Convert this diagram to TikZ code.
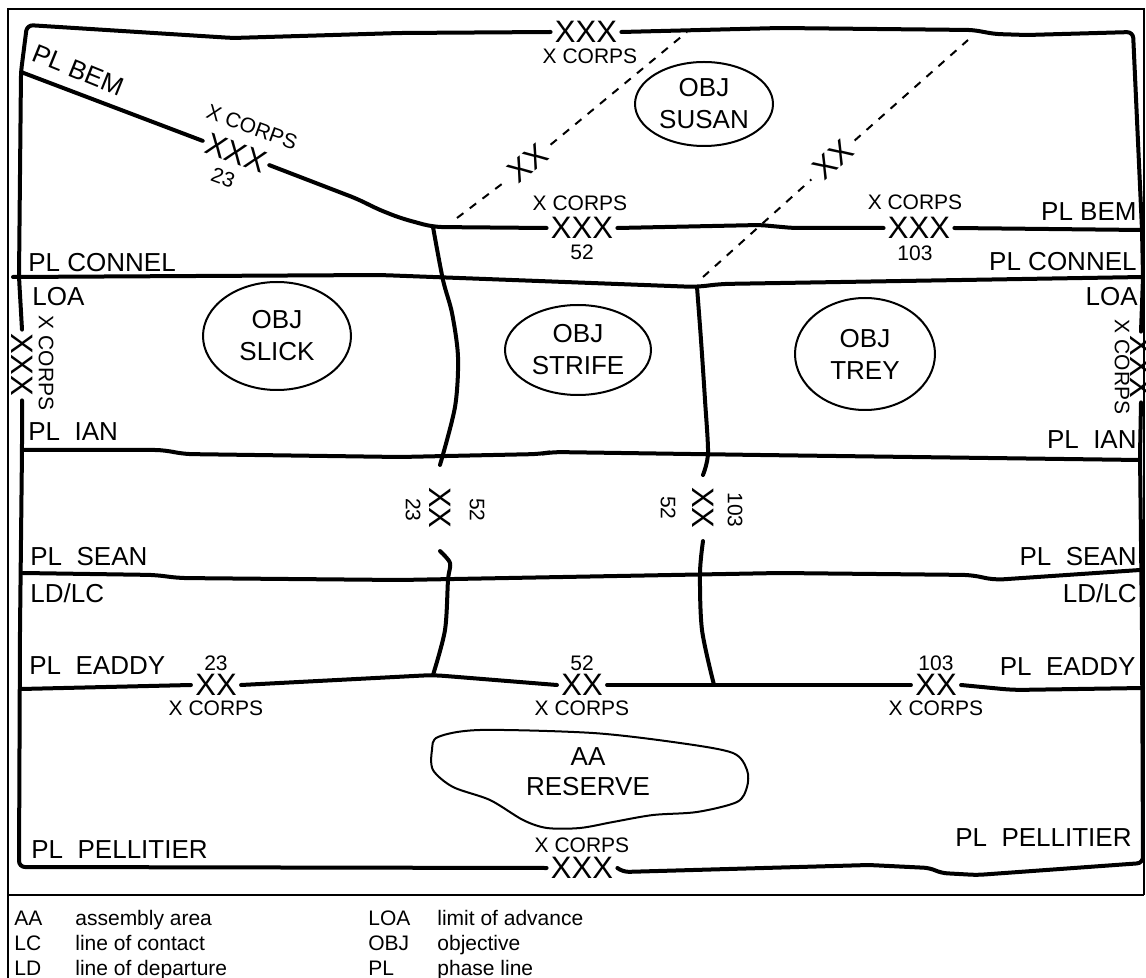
\documentclass[tikz,border=0pt]{standalone}
\usepackage{fontspec}
\setmainfont{Liberation Sans}
\usetikzlibrary{shapes.geometric}

\newcommand{\lblfont}{\fontsize{13}{15}\selectfont}
\newcommand{\smfont}{\fontsize{10.5}{12}\selectfont}
\newcommand{\echfont}{\fontsize{15.5}{17}\selectfont}

\tikzset{
  bnd/.style={line width=2pt, line join=round, line cap=round},
  divbnd/.style={line width=1pt, dash pattern=on 4pt off 4pt},
  lbl/.style={font=\lblfont, inner sep=0pt},
  sm/.style={font=\smfont, inner sep=0pt},
  ech/.style={font=\echfont, inner sep=2pt},
  objective/.style={ellipse, draw, line width=1pt, inner sep=0pt, align=center,
    font=\fontsize{13}{16}\selectfont},
}

\begin{document}
\begin{tikzpicture}[x=0.5pt,y=-0.5pt]
      \useasboundingbox (0,0) rectangle (1146,978);

      % Frame
      \draw[line width=1pt] (8,978) -- (8,9) -- (1144,9) -- (1144,895);
      \draw[line width=1pt] (8,895) -- (1144,895);

      % Corps echelons
      \node[ech] (xxxTop) at (586,32) {XXX};
      \node[sm] (cTop) at (590,56) {X CORPS};
      \node[ech, rotate=-20] (xxxBem) at (236,153) {XXX};
      \node[sm, rotate=-20] (cBem) at (252,127) {X CORPS};
      \node[sm, rotate=-20] (nBem) at (223,178) {23};
      \node[sm] (cA) at (580,203) {X CORPS};
      \node[ech] (xxxA) at (582,228) {XXX};
      \node[sm] (nA) at (582,252) {52};
      \node[sm] (cB) at (915,202) {X CORPS};
      \node[ech] (xxxB) at (919,228) {XXX};
      \node[sm] (nB) at (915,253) {103};
      \node[ech, rotate=-90] (xxxL) at (22,365) {XXX};
      \node[sm, rotate=-90] (cL) at (46,363) {X CORPS};
      \node[ech, rotate=-90] (xxxR) at (1141,367) {XXX};
      \node[sm, rotate=-90] (cR) at (1122,367) {X CORPS};
      \node[sm] (cBot) at (582,845) {X CORPS};
      \node[ech] (xxxBot) at (582,868) {XXX};

      % Division echelons
      \node[ech, rotate=39, inner xsep=4pt] (xxDashA) at (528,163) {XX};
      \node[ech, rotate=42, inner xsep=4pt] (xxDashB) at (833,160) {XX};
      \node[ech, rotate=-90, inner xsep=11pt] (xxMidA) at (440,508) {XX};
      \node[sm, rotate=-90] (nMidA1) at (413,510) {23};
      \node[sm, rotate=-90] (nMidA2) at (477,510) {52};
      \node[ech, rotate=-90, inner xsep=6pt] (xxMidB) at (703,508) {XX};
      \node[sm, rotate=-90] (nMidB1) at (668,508) {52};
      \node[sm, rotate=-90] (nMidB2) at (735,510) {103};
      \node[ech] (xxEA) at (216,685) {XX};
      \node[sm] (nEA) at (216,663) {23};
      \node[sm] (cEA) at (216,708) {X CORPS};
      \node[ech] (xxEB) at (582,685) {XX};
      \node[sm] (nEB) at (582,663) {52};
      \node[sm] (cEB) at (582,708) {X CORPS};
      \node[ech] (xxEC) at (936,685) {XX};
      \node[sm] (nEC) at (936,663) {103};
      \node[sm] (cEC) at (936,708) {X CORPS};

      % Corps boundary
      \draw[bnd, rounded corners=3pt] (xxxL.west) -- (19,277) -- (21,72) -- (27,25) -- (233,38) -- (400,33) -- (xxxTop.west);
      \draw[bnd, rounded corners=3pt] (xxxTop.east) -- (780,28) -- (973,30) -- (995,34) -- (1027,35) -- (1133,32) -- (1142,230) -- (1143,277) -- (xxxR.west);
      \draw[bnd, rounded corners=3pt] (xxxR.east) -- (1140,455) -- (1142,630) -- (1143,863) -- (977,875) -- (941,873) -- (930,868) -- (869,865) -- (623,872) -- (xxxBot.east);
      \draw[bnd, rounded corners=3pt] (xxxBot.west) -- (19,867) -- (20,630) -- (22,450) -- (xxxL.east);

      % Phase lines
      \draw[bnd] (21,72) -- (xxxBem.west);
      \draw[bnd, rounded corners=5pt] (xxxBem.east) -- (360,200) -- (375,208) -- (400,218) -- (433,227) -- (xxxA.west);
      \draw[bnd, rounded corners=3pt] (xxxA.east) -- (760,225) -- (793,228) -- (xxxB.west);
      \draw[bnd] (xxxB.east) -- (1142,230);
      \draw[bnd, rounded corners=5pt] (13,277) -- (380,275) -- (697,287) -- (720,284) -- (1143,277);
      \draw[bnd, rounded corners=5pt] (22,450) -- (165,450) -- (182,454) -- (400,457) -- (540,454) -- (552,452) -- (760,455) -- (1140,460);
      \draw[bnd, rounded corners=5pt] (23,573) -- (157,575) -- (177,578) -- (400,580) -- (780,573) -- (973,575) -- (993,580) -- (1140,570);
      \draw[bnd] (21,689) -- (xxEA.west);
      \draw[bnd, rounded corners=5pt] (xxEA.east) -- (433,675) -- (xxEB.west);
      \draw[bnd, rounded corners=5pt] (xxEB.east) -- (714,685) -- (xxEC.west);
      \draw[bnd, rounded corners=5pt] (xxEC.east) -- (1013,690) -- (1143,688);

      % Division boundaries
      \draw[bnd] plot[smooth] coordinates {(433,227) (443,280) (452,313) (458,357) (455,407) (xxMidA.west)};
      \draw[bnd] plot[smooth] coordinates {(xxMidA.east) (450,563) (448,580) (445,630) (433,675)};
      \draw[bnd] plot[smooth] coordinates {(697,287) (701,340) (705,400) (708,453) (xxMidB.west)};
      \draw[bnd] plot[smooth] coordinates {(xxMidB.east) (700,573) (702,630) (714,685)};
      \draw[divbnd] (457,218) -- (xxDashA.west);
      \draw[divbnd] (xxDashA.east) -- (687,32);
      \draw[divbnd] (703,277) -- (xxDashB.west);
      \draw[divbnd] (xxDashB.east) -- (968,40);

      % Phase line labels
      \node[lbl, rotate=-22] (bemL) at (78,70) {PL BEM};
      \node[lbl, anchor=east] (bemR) at (1137,212) {PL BEM};
      \node[lbl, anchor=west] (conL) at (28,263) {PL CONNEL};
      \node[lbl, anchor=east] (conR) at (1137,262) {PL CONNEL};
      \node[lbl, anchor=west] (loaL) at (32,297) {LOA};
      \node[lbl, anchor=east] (loaR) at (1138,297) {LOA};
      \node[lbl, anchor=west] (ianL) at (28,432) {PL~~IAN};
      \node[lbl, anchor=east] (ianR) at (1137,440) {PL~~IAN};
      \node[lbl, anchor=west] (seanL) at (30,557) {PL~~SEAN};
      \node[lbl, anchor=east] (seanR) at (1137,557) {PL~~SEAN};
      \node[lbl, anchor=west] (ldL) at (30,593) {LD/LC};
      \node[lbl, anchor=east] (ldR) at (1137,593) {LD/LC};
      \node[lbl, anchor=west] (eadL) at (29,666) {PL~~EADDY};
      \node[lbl, anchor=east] (eadR) at (1136,667) {PL~~EADDY};
      \node[lbl, anchor=west] (pelL) at (31,850) {PL~~PELLITIER};
      \node[lbl, anchor=east] (pelR) at (1132,838) {PL~~PELLITIER};

      % Objectives
      \node[objective, minimum width=69pt, minimum height=42pt] (objSusan) at (704,104) {OBJ\\SUSAN};
      \node[objective, minimum width=74pt, minimum height=54pt] (objSlick) at (277,336) {OBJ\\SLICK};
      \node[objective, minimum width=73pt, minimum height=45pt] (objStrife) at (578,350) {OBJ\\STRIFE};
      \node[objective, minimum width=70pt, minimum height=56pt] (objTrey) at (865,354) {OBJ\\TREY};

      % Assembly area
      \draw[line width=1pt] plot[smooth cycle] coordinates {(438,737) (480,730) (593,733) (680,743) (733,753) (747,770) (747,787) (737,802) (697,812) (653,815) (613,822) (580,828) (547,828) (523,820) (490,800) (453,787) (433,770) (432,750)};
      \node[lbl, align=center] (aaRes) at (588,772) {AA\\RESERVE};

      % Legend
      \foreach \ab/\txt [count=\i] in {AA/assembly area, LC/line of contact, LD/line of departure}
          \node[sm, anchor=base west] (keyA\i) at (14,900+25*\i) {\ab};
      \foreach \ab/\txt [count=\i] in {AA/assembly area, LC/line of contact, LD/line of departure}
          \node[sm, anchor=base west] (keyB\i) at (75,900+25*\i) {\txt};
      \foreach \ab/\txt [count=\i] in {LOA/limit of advance, OBJ/objective, PL/phase line}
          \node[sm, anchor=base west] (keyC\i) at (368,900+25*\i) {\ab};
      \foreach \ab/\txt [count=\i] in {LOA/limit of advance, OBJ/objective, PL/phase line}
          \node[sm, anchor=base west] (keyD\i) at (437,900+25*\i) {\txt};

\end{tikzpicture}
\end{document}
